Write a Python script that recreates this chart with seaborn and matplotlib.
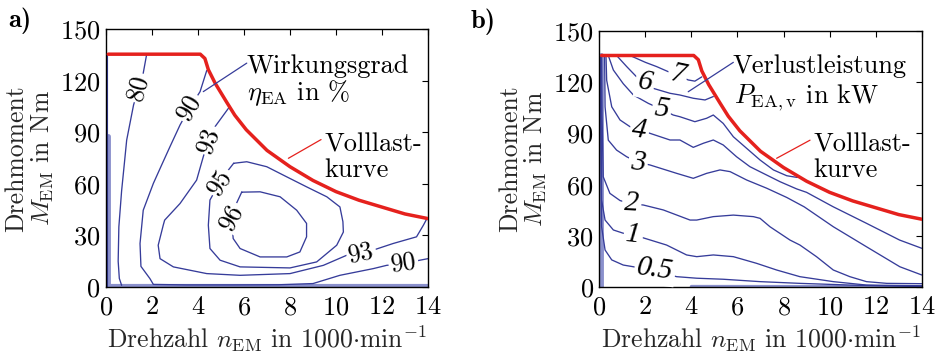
import matplotlib
matplotlib.use("Agg")
import matplotlib.pyplot as plt
import seaborn as sns
import pandas as pd

# ---------------- data (speed in 1000 1/min, torque in Nm) ----------------
speed_fullload = [0.1, 4.1, 4.3, 4.45, 4.75, 5.25, 5.6, 6.1, 7, 8, 9, 10, 11, 12, 13, 14]
torque_fullload = [135.5, 135.5, 133, 126.5, 118.5, 107.5, 100, 91.5, 79.5, 70, 62, 55.5, 50.5, 46.5, 42.5, 39.8]

# panel a: efficiency iso-lines (%)
eff80_n = [1.77, 1.62, 1.45, 1.2, 0.9, 0.8, 0.68, 0.56, 0.53, 0.58, 0.68]
eff80_t = [135.5, 124.5, 117, 106, 85.5, 72, 56, 35, 15, 5, 1]
eff90_n = [4.38, 4.09, 3.58, 3.22, 2.78, 2.42, 2.06, 1.62, 1.48, 1.52, 1.91, 2.06, 3.5, 5.5, 7.5, 9.0, 10.17, 11.62, 12.2, 12.93, 13.65, 14.0]
eff90_t = [126, 113.7, 103, 94.3, 81.6, 71, 60.3, 44.7, 25.3, 12, 4.9, 1.5, 1.2, 1.2, 1.3, 2, 6.8, 10.7, 12.6, 13.6, 15.6, 16.5]
eff93_n = [5.35, 4.74, 4.45, 4.23, 3.94, 3.22, 2.55, 2.49, 2.27, 2.35, 2.93, 4.38, 5.83, 8.0, 9.45, 10.47, 11.1, 11.6, 12.48, 13.5, 13.8, 13.94]
eff93_t = [104.5, 93.3, 85.5, 75.8, 62.2, 48.6, 38.9, 36, 24.3, 16.5, 11.7, 7.8, 6.8, 7.8, 12.6, 18.5, 19.8, 21.4, 25.3, 29.2, 36, 39.5]
eff95_n = [5.55, 5.2, 4.88, 4.52, 4.45, 4.52, 4.96, 5.83, 8.0, 9.16, 10.03, 10.32, 10.3, 10.17, 9.6, 8.72, 7.86, 6.99, 6.12, 5.55]
eff95_t = [72, 66, 59.3, 50.6, 36, 22.4, 15.6, 11.7, 11.1, 14.6, 24.3, 32, 38, 46.6, 52.5, 58.3, 64.1, 70, 72.9, 72]
eff96_n = [5.9, 5.65, 5.46, 5.53, 5.83, 6.7, 7.86, 8.43, 8.72, 8.72, 8.29, 7.57, 6.7, 5.9]
eff96_t = [55.2, 48, 40, 28.2, 22.4, 17.5, 17.5, 20.4, 29.2, 37, 44.7, 52.5, 55.4, 55.2]
eff_edge_n = [0.06, 0.06]
eff_edge_t = [0, 135.5]
eff_band_left_n = [0.1, 0.1]
eff_band_left_t = [0, 88]
eff_band_bottom_n = [0.0, 14.0]
eff_band_bottom_t = [0.7, 0.7]

# panel b: loss power iso-lines (kW)
loss7_n = [1.33, 2.0, 2.49, 3.0, 3.4, 3.86, 4.15, 4.45]
loss7_t = [135.5, 131.5, 129, 126, 124, 121.2, 120.5, 123]
loss6_n = [0.75, 1.19, 1.62, 1.98, 2.34, 3.07, 3.5, 4.08, 4.59, 4.95]
loss6_t = [135.5, 129, 123, 119.5, 116.3, 113.4, 112.4, 110.5, 109.5, 111.5]
loss5_n = [0.39, 0.61, 1.04, 1.48, 2.13, 2.71, 3.21, 3.5, 4.15, 4.66, 4.95, 5.38, 5.82, 6.4, 6.98, 7.56, 8.14, 8.6]
loss5_t = [135.5, 127, 119, 112.4, 107.5, 104, 100.7, 99.7, 96.8, 98.8, 100.7, 95.8, 88, 81.2, 74.4, 68.6, 65.2, 64.2]
loss4_n = [0.29, 0.32, 0.54, 0.9, 1.33, 1.75, 2.2, 3.07, 3.5, 4.08, 4.52, 4.95, 5.38, 5.96, 6.54, 7.12, 7.85, 8.57, 9.0, 10.15, 11.6, 13.04, 14.0]
loss4_t = [135.5, 121, 105.5, 97.8, 93.9, 92, 90, 86.1, 86.1, 81.8, 84.2, 86.1, 83.2, 76.3, 70.5, 66.6, 61.7, 57.5, 55.5, 47.1, 37.4, 27.6, 22.8]
loss3_n = [0.23, 0.25, 0.39, 0.75, 1.19, 1.69, 2.2, 3.36, 4.08, 4.66, 5.24, 5.68, 6.4, 7.27, 8.14, 8.9, 10.16, 11.6, 13.05, 14.0]
loss3_t = [135.5, 105.5, 86, 80.2, 76.3, 73, 71.5, 66.6, 63.7, 66.6, 68.6, 67.6, 62.7, 57.9, 52.5, 47, 35.4, 23.7, 12, 7.2]
loss2_n = [0.1, 0.12, 0.17, 0.46, 0.9, 1.41, 1.91, 2.78, 3.94, 4.23, 4.95, 5.82, 6.69, 6.98, 7.41, 8.28, 8.71, 9.43, 10.16, 10.88, 11.6, 12.48, 14.0]
loss2_t = [135.5, 100, 64.6, 54.9, 50.7, 48.7, 48.1, 45.2, 39.3, 39.3, 41.3, 42.2, 41.3, 40.3, 35.4, 27.6, 24.7, 17.9, 10.1, 6.2, 3.3, 2.3, 2.1]
loss1_n = [0.07, 0.1, 0.25, 0.61, 1.04, 1.48, 1.98, 2.92, 3.79, 4.23, 4.95, 5.82, 6.83, 7.7, 8.71, 10.16, 11.6, 14.0]
loss1_t = [135.5, 51, 39.3, 33.5, 31.6, 30.6, 28.6, 24.7, 18.9, 17.9, 18.9, 17.9, 14, 10.1, 6.2, 3.3, 1.3, 0.9]
loss05_n = [0.04, 0.1, 0.25, 0.54, 1.04, 1.48, 2.42, 3.36, 4.23, 5.38, 6.98, 8.7, 10.9, 14.0]
loss05_t = [135.5, 35.4, 21.8, 16, 13, 12, 9.5, 6.2, 5.3, 4.7, 3.3, 2.3, 1.3, 0.4]
loss_band_left_n = [0.06, 0.06]
loss_band_left_t = [0, 135.5]
loss_band_bottom_n = [4.0, 14.0]
loss_band_bottom_t = [0.4, 0.3]

# contour label texts
eff_label_text = ["80", "90", "93", "95", "96", "93", "90"]
loss_label_text = ["7", "6", "5", "4", "3", "2", "1", "0.5"]

x_ticks = [0, 2, 4, 6, 8, 10, 12, 14]
y_ticks = [0, 30, 60, 90, 120, 150]

# ---------------- style ----------------
sns.set_theme(style="white")
plt.rcParams.update({
    "font.family": "cmr10",
    "mathtext.fontset": "cm",
    "axes.formatter.use_mathtext": True,
    "axes.unicode_minus": False,
    "axes.edgecolor": "black",
    "axes.linewidth": 1.0,
    "xtick.color": "black",
    "ytick.color": "black",
    "text.color": "black",
})

BLUE = "#363c9a"
BAND = "#8a90cc"
RED = "#e5211d"

fig = plt.figure(figsize=(9.37, 3.61), dpi=100)
axA = fig.add_axes([0.1131, 0.205, 0.3437, 0.7139])
axB = fig.add_axes([0.6396, 0.2042, 0.3441, 0.7108])


def iso(ax, xs, ys, color=BLUE, lw=0.95, z=2, alpha=1.0):
    df = pd.DataFrame({"n": xs, "t": ys})
    sns.lineplot(data=df, x="n", y="t", ax=ax, sort=False, estimator=None,
                 color=color, linewidth=lw, zorder=z, alpha=alpha, legend=False)


def clabel(ax, x, y, s, rot, italic=False, size=18.5):
    kw = dict(rotation=rot, rotation_mode="anchor", ha="center", va="center",
              fontsize=size, zorder=3,
              bbox=dict(boxstyle="square,pad=0.08", fc="white", ec="none"))
    if italic:
        kw.update(family="Liberation Serif", style="italic")
    ax.text(x, y, s, **kw)


def frame(ax):
    ax.set_xlim(0, 14)
    ax.set_ylim(0, 150)
    ax.set_xticks(x_ticks)
    ax.set_yticks(y_ticks)
    ax.tick_params(direction="in", top=True, right=True, length=4, width=0.8,
                   labelsize=19)
    ax.tick_params(axis="x", pad=6)
    ax.tick_params(axis="y", pad=4)
    ax.set_xlabel(r"Drehzahl $n_{\mathrm{EM}}$ in 1000$\cdot$min$^{-1}$",
                  fontsize=18.5, labelpad=3)
    ax.set_ylabel("Drehmoment\n" + r"$M_{\mathrm{EM}}$ in Nm", fontsize=18.5,
                  labelpad=3, linespacing=1.05)
    for sp in ax.spines.values():
        sp.set_visible(True)
        sp.set_color("black")
        sp.set_linewidth(1.0)


# ---------------- panel a ----------------
iso(axA, eff_band_left_n, eff_band_left_t, color=BAND, lw=3.5, z=1.5)
iso(axA, eff_band_bottom_n, eff_band_bottom_t, color=BAND, lw=3.0, z=1.5)
iso(axA, eff_edge_n, eff_edge_t, lw=0.8)
for xs, ys in [(eff80_n, eff80_t), (eff90_n, eff90_t), (eff93_n, eff93_t),
               (eff95_n, eff95_t), (eff96_n, eff96_t)]:
    iso(axA, xs, ys)
sns.lineplot(x=speed_fullload, y=torque_fullload, ax=axA, sort=False,
             estimator=None, color=RED, linewidth=2.5, zorder=5)

eff_label_pos = [(1.38, 116), (3.6, 104.5), (4.45, 85.5), (4.95, 61), (5.47, 40.5),
                 (11.1, 19.6), (12.93, 13.8)]
eff_label_rot = [75, 60, 70, 57, 62, 12, 8]
for (x, y), s, r in zip(eff_label_pos, eff_label_text, eff_label_rot):
    clabel(axA, x, y, s, r)

axA.annotate("", xy=(4.23, 113.7), xytext=(6.12, 130.3),
             arrowprops=dict(arrowstyle="-", color=BLUE, lw=0.9, shrinkA=0, shrinkB=0),
             zorder=6)
axA.annotate("", xy=(7.93, 74.9), xytext=(9.35, 85.8),
             arrowprops=dict(arrowstyle="-", color=RED, lw=0.9, shrinkA=0, shrinkB=0),
             zorder=6)
axA.text(6.1, 124.8, "Wirkungsgrad", fontsize=19, va="baseline", ha="left", zorder=6)
axA.text(6.15, 108.9, r"$\eta_{\mathrm{EA}}$ in %", fontsize=19, va="baseline",
         ha="left", zorder=6)
axA.text(9.5, 78.7, "Volllast-", fontsize=19, va="baseline", ha="left", zorder=6)
axA.text(9.5, 64.1, "kurve", fontsize=19, va="baseline", ha="left", zorder=6)
frame(axA)

# ---------------- panel b ----------------
iso(axB, loss_band_left_n, loss_band_left_t, color=BAND, lw=3.5, z=1.5)
iso(axB, loss_band_bottom_n, loss_band_bottom_t, color=BAND, lw=2.5, z=1.5)
for xs, ys in [(loss7_n, loss7_t), (loss6_n, loss6_t), (loss5_n, loss5_t),
               (loss4_n, loss4_t), (loss3_n, loss3_t), (loss2_n, loss2_t),
               (loss1_n, loss1_t), (loss05_n, loss05_t)]:
    iso(axB, xs, ys)
sns.lineplot(x=speed_fullload, y=torque_fullload, ax=axB, sort=False,
             estimator=None, color=RED, linewidth=2.5, zorder=5)

loss_label_pos = [(3.4, 124), (1.98, 119.5), (2.71, 104), (1.75, 92), (1.69, 73),
                  (1.41, 48.9), (1.48, 30.6), (2.42, 10.5)]
loss_label_rot = [-12, -10, -8, -8, -6, -3, -6, -8]
for (x, y), s, r in zip(loss_label_pos, loss_label_text, loss_label_rot):
    clabel(axB, x, y, s, r, italic=True, size=21)

axB.annotate("", xy=(3.86, 114.3), xytext=(5.82, 131.5),
             arrowprops=dict(arrowstyle="-", color=BLUE, lw=0.9, shrinkA=0, shrinkB=0),
             zorder=6)
axB.annotate("", xy=(7.7, 75.4), xytext=(9.15, 86),
             arrowprops=dict(arrowstyle="-", color=RED, lw=0.9, shrinkA=0, shrinkB=0),
             zorder=6)
axB.text(5.8, 125.4, "Verlustleistung", fontsize=19, va="baseline", ha="left", zorder=6)
axB.text(5.87, 108, r"$P_{\mathrm{EA,v}}$ in kW", fontsize=19, va="baseline",
         ha="left", zorder=6)
axB.text(9.28, 79.3, "Volllast-", fontsize=19, va="baseline", ha="left", zorder=6)
axB.text(9.28, 64.6, "kurve", fontsize=19, va="baseline", ha="left", zorder=6)
frame(axB)

fig.text(8 / 937, 1 - 27 / 361, "a)", family="cmb10", fontsize=19, va="baseline")
fig.text(471 / 937, 1 - 28 / 361, "b)", family="cmb10", fontsize=19, va="baseline")

fig.savefig("out.png", dpi=100)
